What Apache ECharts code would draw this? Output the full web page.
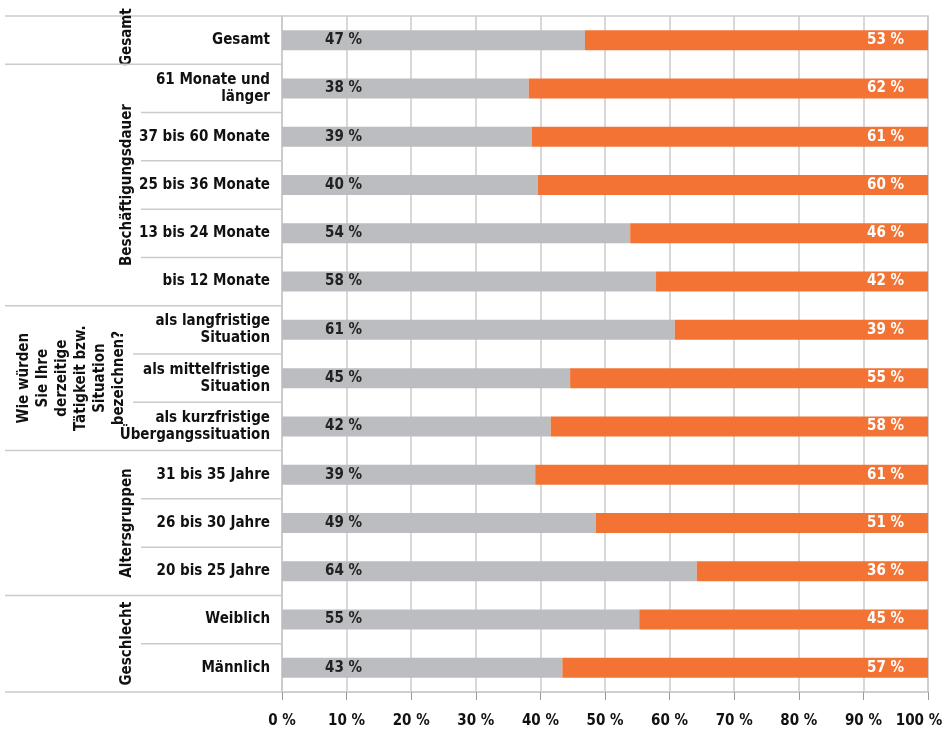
<!DOCTYPE html>
<html>
<head>
<meta charset="utf-8">
<script src="https://cdn.jsdelivr.net/npm/echarts@6/dist/echarts.min.js"></script>
<style>
html,body{margin:0;padding:0;background:#fff;}
#c{width:942px;height:733px;}
</style>
</head>
<body>
<div id="c"></div>
<script>
const categories = [
  "Gesamt",
  "61 Monate und\nlänger",
  "37 bis 60 Monate",
  "25 bis 36 Monate",
  "13 bis 24 Monate",
  "bis 12 Monate",
  "als langfristige\nSituation",
  "als mittelfristige\nSituation",
  "als kurzfristige\nÜbergangssituation",
  "31 bis 35 Jahre",
  "26 bis 30 Jahre",
  "20 bis 25 Jahre",
  "Weiblich",
  "Männlich"
];
const greyValues   = [46.9, 38.2, 38.7, 39.6, 53.9, 57.9, 60.8, 44.6, 41.6, 39.2, 48.6, 64.2, 55.3, 43.4];
const orangeValues = [53.1, 61.8, 61.3, 60.4, 46.1, 42.1, 39.2, 55.4, 58.4, 60.8, 51.4, 35.8, 44.7, 56.6];
const xTicks = [0, 10, 20, 30, 40, 50, 60, 70, 80, 90, 100];
// groups: [label, first index, last index]
const groups = [
  ["Gesamt", 0, 0],
  ["Beschäftigungsdauer", 1, 5],
  ["Wie würden\nSie Ihre\nderzeitige\nTätigkeit bzw.\nSituation\nbezeichnen?", 6, 8],
  ["Altersgruppen", 9, 11],
  ["Geschlecht", 12, 13]
];

const FONT = "'Liberation Sans Narrow','DejaVu Sans Condensed',sans-serif";
const FS = 15;
const GRID = '#cbcbcb';
const chart = echarts.init(document.getElementById('c'), null, {renderer: 'canvas'});

chart.setOption({
  animation: false,
  backgroundColor: '#fff',
  grid: {left: 282, right: 14, top: 16, bottom: 41, show: true, borderColor: GRID, borderWidth: 1.5,
    outerBoundsMode: 'none', containLabel: false},
  xAxis: {
    type: 'value', min: 0, max: 100, interval: 10,
    axisLine: {show: true, lineStyle: {color: GRID, width: 1.5}},
    axisTick: {show: true, length: 8, lineStyle: {color: '#9a9a9a', width: 1}},
    splitLine: {show: true, lineStyle: {color: GRID, width: 1.5}},
    axisLabel: {
      formatter: v => xTicks.indexOf(v) < 0 ? '' : (v === 100 ? '{last|' + v + ' %}' : v + ' %'),
      fontFamily: FONT, fontWeight: 'bold', fontSize: FS, color: '#111', margin: 22,
      rich: {last: {fontFamily: FONT, fontWeight: 'bold', fontSize: FS, color: '#111', padding: [0, 18, 0, 0]}}
    }
  },
  yAxis: {
    type: 'category', inverse: true, data: categories,
    axisLine: {show: true, lineStyle: {color: GRID, width: 1.5}},
    axisTick: {show: false},
    axisLabel: {fontFamily: FONT, fontWeight: 'bold', fontSize: FS, color: '#111', margin: 12, lineHeight: 17, align: 'right'}
  },
  series: [
    {
      type: 'bar', stack: 't', data: greyValues, barWidth: 20,
      itemStyle: {color: '#bcbdc0'},
      label: {show: true, position: 'insideLeft', distance: 43, formatter: p => Math.round(p.value) + ' %',
        fontFamily: FONT, fontWeight: 'bold', fontSize: FS, color: '#222'}
    },
    {
      type: 'bar', stack: 't', data: orangeValues, barWidth: 20,
      itemStyle: {color: '#f37335'},
      label: {show: true, position: 'insideRight', distance: 24, formatter: p => Math.round(p.value) + ' %',
        fontFamily: FONT, fontWeight: 'bold', fontSize: FS, color: '#fff'}
    }
  ]
});

// Build multi-level label separators from the axis scale
const c0 = chart.convertToPixel({yAxisIndex: 0}, 0);
const c1 = chart.convertToPixel({yAxisIndex: 0}, 1);
const band = c1 - c0;
const x0 = chart.convertToPixel({xAxisIndex: 0}, 0);
const boundary = i => chart.convertToPixel({yAxisIndex: 0}, i) - band / 2;
const elements = [];
const lineStyle = {stroke: GRID, lineWidth: 1.5};
groups.forEach((g, gi) => {
  const top = boundary(g[1]);
  const bottom = boundary(g[2] + 1);
  elements.push({type: 'line', shape: {x1: 5, y1: top, x2: x0, y2: top}, style: lineStyle, silent: true});
  if (gi === groups.length - 1) {
    elements.push({type: 'line', shape: {x1: 5, y1: bottom, x2: x0, y2: bottom}, style: lineStyle, silent: true});
  }
  const multi = g[0].indexOf('\n') >= 0;
  const innerStart = multi ? 133 : 141;
  for (let i = g[1] + 1; i <= g[2]; i++) {
    const y = boundary(i);
    elements.push({type: 'line', shape: {x1: innerStart, y1: y, x2: x0, y2: y}, style: lineStyle, silent: true});
  }
  const cx = multi ? 72 : 127;
  let cy = (top + bottom) / 2;
  if (g[2] === g[1]) cy -= 3;
  elements.push({
    type: 'text', x: cx, y: cy, rotation: Math.PI / 2, silent: true,
    style: {text: g[0], align: 'center', verticalAlign: 'middle', fontFamily: FONT, fontWeight: 'bold',
      fontSize: FS, lineHeight: 19, fill: '#111'}
  });
});
chart.setOption({graphic: {elements: elements}});
</script>
</body>
</html>
